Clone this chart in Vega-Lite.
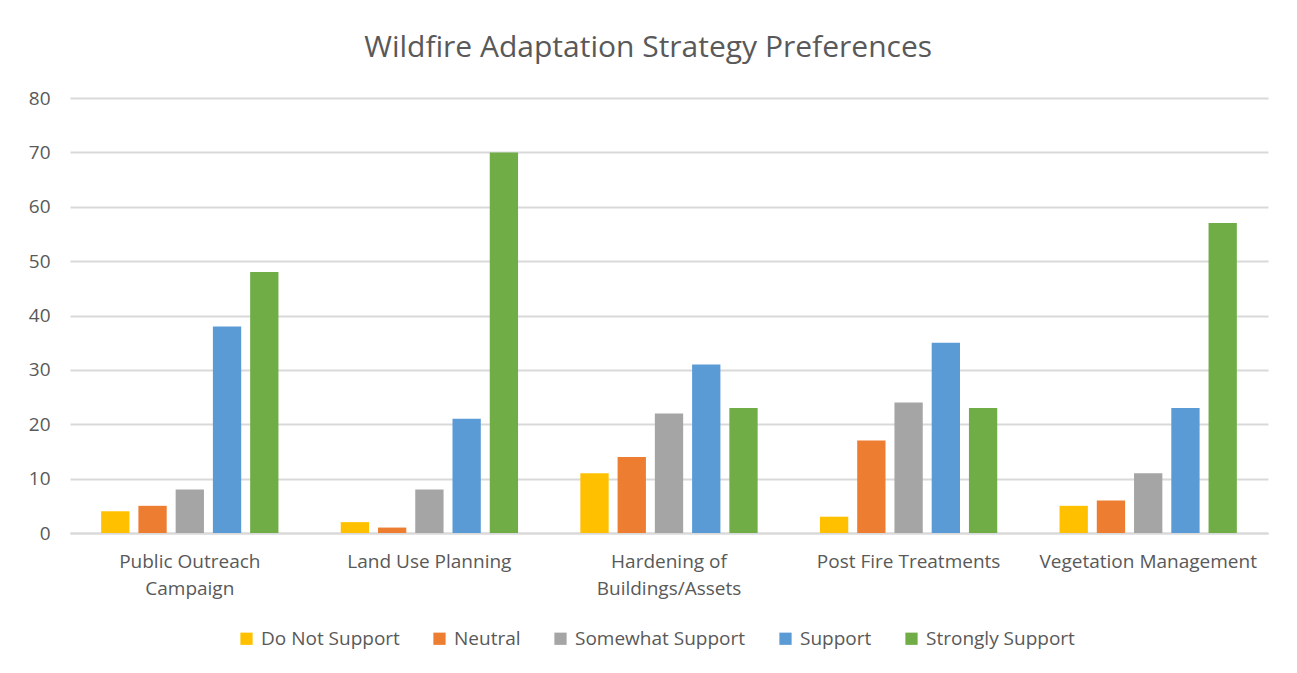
{
  "$schema": "https://vega.github.io/schema/vega-lite/v6.json",
  "autosize": {"type": "none"},
  "width": 1198,
  "height": 435,
  "padding": {"left": 70, "top": 98, "right": 29, "bottom": 140},
  "background": "white",
  "title": {
    "text": "Wildfire Adaptation Strategy Preferences",
    "font": "Open Sans",
    "fontSize": 30,
    "fontWeight": "normal",
    "color": "#595959",
    "anchor": "middle",
    "frame": "bounds",
    "baseline": "alphabetic",
    "offset": 2
  },
  "data": {
    "values": [
      {"strategy": "Public Outreach Campaign", "response": "Do Not Support", "count": 4},
      {"strategy": "Public Outreach Campaign", "response": "Neutral", "count": 5},
      {"strategy": "Public Outreach Campaign", "response": "Somewhat Support", "count": 8},
      {"strategy": "Public Outreach Campaign", "response": "Support", "count": 38},
      {"strategy": "Public Outreach Campaign", "response": "Strongly Support", "count": 48},
      {"strategy": "Land Use Planning", "response": "Do Not Support", "count": 2},
      {"strategy": "Land Use Planning", "response": "Neutral", "count": 1},
      {"strategy": "Land Use Planning", "response": "Somewhat Support", "count": 8},
      {"strategy": "Land Use Planning", "response": "Support", "count": 21},
      {"strategy": "Land Use Planning", "response": "Strongly Support", "count": 70},
      {"strategy": "Hardening of Buildings/Assets", "response": "Do Not Support", "count": 11},
      {"strategy": "Hardening of Buildings/Assets", "response": "Neutral", "count": 14},
      {"strategy": "Hardening of Buildings/Assets", "response": "Somewhat Support", "count": 22},
      {"strategy": "Hardening of Buildings/Assets", "response": "Support", "count": 31},
      {"strategy": "Hardening of Buildings/Assets", "response": "Strongly Support", "count": 23},
      {"strategy": "Post Fire Treatments", "response": "Do Not Support", "count": 3},
      {"strategy": "Post Fire Treatments", "response": "Neutral", "count": 17},
      {"strategy": "Post Fire Treatments", "response": "Somewhat Support", "count": 24},
      {"strategy": "Post Fire Treatments", "response": "Support", "count": 35},
      {"strategy": "Post Fire Treatments", "response": "Strongly Support", "count": 23},
      {"strategy": "Vegetation Management", "response": "Do Not Support", "count": 5},
      {"strategy": "Vegetation Management", "response": "Neutral", "count": 6},
      {"strategy": "Vegetation Management", "response": "Somewhat Support", "count": 11},
      {"strategy": "Vegetation Management", "response": "Support", "count": 23},
      {"strategy": "Vegetation Management", "response": "Strongly Support", "count": 57}
    ]
  },
  "mark": {"type": "bar"},
  "encoding": {
    "x": {
      "field": "strategy",
      "type": "nominal",
      "sort": null,
      "scale": {"paddingInner": 0.26, "paddingOuter": 0.13},
      "axis": {
        "title": null,
        "labelAngle": 0,
        "labelFont": "Open Sans",
        "labelFontSize": 19,
        "labelColor": "#595959",
        "labelPadding": 19,
        "labelLineHeight": 27,
        "labelLimit": 300,
        "ticks": false,
        "domain": true,
        "domainColor": "#d9d9d9",
        "domainWidth": 2,
        "labelExpr": "datum.value == 'Public Outreach Campaign' ? ['Public Outreach', 'Campaign'] : datum.value == 'Hardening of Buildings/Assets' ? ['Hardening of', 'Buildings/Assets'] : datum.value"
      }
    },
    "xOffset": {
      "field": "response",
      "type": "nominal",
      "sort": ["Do Not Support", "Neutral", "Somewhat Support", "Support", "Strongly Support"],
      "scale": {"paddingInner": 0.24, "paddingOuter": 0}
    },
    "y": {
      "field": "count",
      "type": "quantitative",
      "scale": {"domain": [0, 80]},
      "axis": {
        "title": null,
        "values": [0, 10, 20, 30, 40, 50, 60, 70, 80],
        "labelFont": "Open Sans",
        "labelFontSize": 19,
        "labelColor": "#595959",
        "labelPadding": 20,
        "ticks": false,
        "domain": false,
        "gridColor": "#d9d9d9",
        "gridWidth": 2
      }
    },
    "color": {
      "field": "response",
      "type": "nominal",
      "sort": ["Do Not Support", "Neutral", "Somewhat Support", "Support", "Strongly Support"],
      "scale": {
        "domain": ["Do Not Support", "Neutral", "Somewhat Support", "Support", "Strongly Support"],
        "range": ["#FFC000", "#ED7D31", "#A5A5A5", "#5B9BD5", "#70AD47"]
      },
      "legend": {
        "title": null,
        "orient": "none",
        "direction": "horizontal",
        "legendX": 167,
        "legendY": 531,
        "symbolType": "square",
        "symbolSize": 150,
        "symbolStrokeWidth": 0,
        "labelFont": "Open Sans",
        "labelFontSize": 19,
        "labelColor": "#595959",
        "labelOffset": 5,
        "labelLimit": 300,
        "columnPadding": 30
      }
    }
  },
  "config": {"view": {"stroke": null}}
}
